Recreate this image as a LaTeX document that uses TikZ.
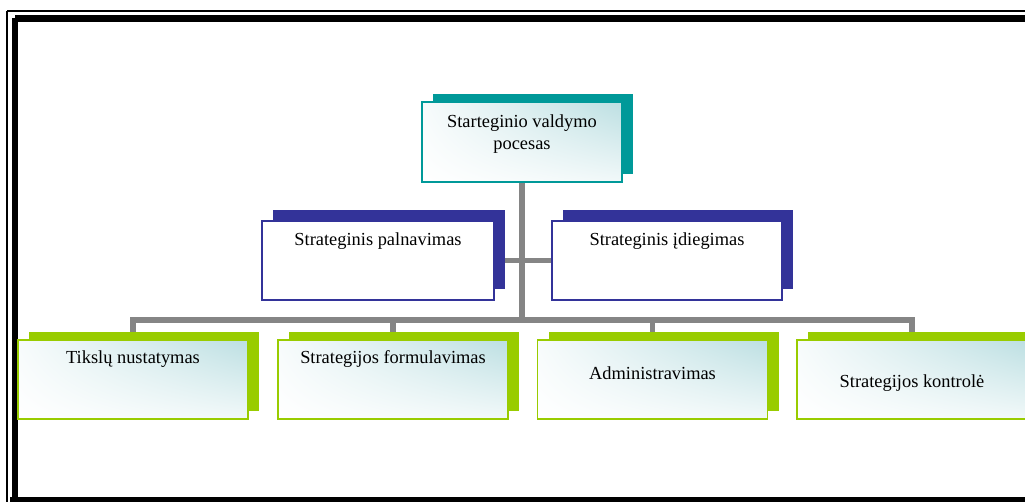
\documentclass[tikz,border=0pt]{standalone}
\usepackage{fontspec}
\setmainfont{Liberation Serif}
\usetikzlibrary{shadows,shadings,backgrounds}
\definecolor{tealc}{HTML}{009999}
\definecolor{bluec}{HTML}{333399}
\definecolor{greenc}{HTML}{99CC00}
\definecolor{grayc}{HTML}{858585}
\definecolor{lightt}{HTML}{BCDFE2}
\tikzset{
  boxbase/.style={rectangle, inner sep=0pt, minimum height=79pt},
  grad/.style={upper left=lightt!12!white, upper right=lightt, lower left=white, lower right=lightt!20!white},
  topbox/.style={boxbase, minimum width=200pt, minimum height=80pt, draw=tealc, line width=1.8pt, grad,
    drop shadow={shadow xshift=11pt, shadow yshift=8pt, fill=tealc, opacity=1}},
  bluebox/.style={boxbase, draw=bluec, line width=1.3pt, fill=white,
    drop shadow={shadow xshift=11pt, shadow yshift=10.5pt, fill=bluec, opacity=1}},
  greenbox/.style={boxbase, minimum width=230pt, draw=greenc, line width=1.8pt, grad,
    drop shadow={shadow xshift=11pt, shadow yshift=8pt, fill=greenc, opacity=1}},
  txt/.style={font=\fontsize{18.4}{22}\selectfont, inner sep=0pt, anchor=base, align=center},
  conn/.style={draw=grayc, line width=5.5pt}
}
\begin{document}
\begin{tikzpicture}[x=1pt,y=-1pt]
\useasboundingbox (0,0) rectangle (1025,502);
% frame
\draw[line width=1.2pt] (7,11) -- (1040,11);
\draw[line width=1.2pt] (7,11) -- (7,520);
\draw[line width=6.8pt] (15,18.5) -- (1040,18.5);
\draw[line width=6.8pt] (15,18.5) -- (15,520);
\draw[line width=6pt] (10,500) -- (1040,500);
% boxes
\node[topbox] (top) at (522,142) {};
\node[bluebox, minimum width=232pt] (bl) at (378,260.5) {};
\node[bluebox, minimum width=230pt] (br) at (667,260.5) {};
\node[greenbox] (g1) at (133,379.5) {};
\node[greenbox] (g2) at (393,379.5) {};
\node[greenbox] (g3) at (652.5,379.5) {};
\node[greenbox] (g4) at (912,379.5) {};
% texts
\node[txt] (ttop) at (522,150) {Starteginio valdymo\\pocesas};
\node[txt] (tbl) at (378,246) {Strateginis palnavimas};
\node[txt] (tbr) at (667,246) {Strateginis įdiegimas};
\node[txt] (tg1) at (133,363) {Tikslų nustatymas};
\node[txt] (tg2) at (393,363) {Strategijos formulavimas};
\node[txt] (tg3) at (652.5,380) {Administravimas};
\node[txt] (tg4) at (912,387) {Strategijos kontrolė};
% connectors
\coordinate (bar) at (522,320);
\coordinate (barL) at (133,320);
\coordinate (barR) at (912,320);
\begin{scope}[on background layer]
\draw[conn] (top.south) -- (bar);
\draw[conn] (bl.east) -- (br.west);
\draw[conn, line cap=rect] (g1.north) -- (barL) -- (barR) -- (g4.north);
\draw[conn] (g2.north) -- (g2.north |- bar);
\draw[conn] (g3.north) -- (g3.north |- bar);
\end{scope}
\end{tikzpicture}
\end{document}
